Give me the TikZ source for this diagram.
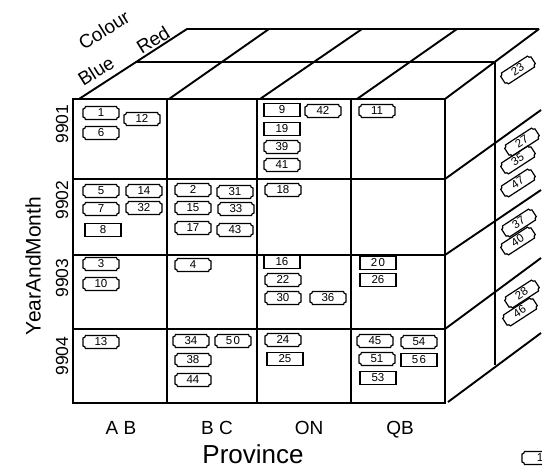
\documentclass[tikz,border=0pt]{standalone}
\usepackage{fontspec}
\setmainfont{Liberation Sans}
\newcommand\tagN[5]{% name, x, y, text, angle
  \begin{scope}[shift={(#2,#3)},rotate=#5]
    \node[tagtext,rotate=#5] (#1) at (0,-0.8) {#4};
    \draw[tagline] (-15.5,-6.5) -- (15.5,-6.5) .. controls (15.5,-5.1) and (16.6,-4) .. (18,-4)
      -- (18,4) .. controls (16.6,4) and (15.5,5.1) .. (15.5,6.5)
      -- (-15.5,6.5) .. controls (-15.5,5.1) and (-16.6,4) .. (-18,4)
      -- (-18,-4) .. controls (-16.6,-4) and (-15.5,-5.1) .. (-15.5,-6.5) -- cycle;
  \end{scope}}
\newcommand\tagP[5]{% name, x, y, text, angle
  \begin{scope}[shift={(#2,#3)},rotate=#5]
    \node[tagtext,rotate=#5] (#1) at (0,-0.8) {#4};
    \draw[tagline] (-18,-6.5) rectangle (18,6.5);
  \end{scope}}
\begin{document}
\begin{tikzpicture}[x=1pt,y=-1pt,
  edge/.style={line width=1.9pt},
  tagline/.style={line width=1.2pt},
  tagtext/.style={inner sep=0pt,font=\fontsize{11.5}{11.5}\selectfont},
  dimlab/.style={inner sep=0pt,font=\fontsize{19}{19}\selectfont},
  memlab/.style={inner sep=0pt,font=\fontsize{17.5}{17.5}\selectfont},
  provlab/.style={inner sep=0pt,anchor=base,font=\fontsize{19}{19}\selectfont},
  axistitle/.style={inner sep=0pt,font=\fontsize{21}{21}\selectfont}]
\useasboundingbox (0,0) rectangle (542,466);
% front face
\draw[edge] (73,99) rectangle (445,403);
\foreach \x in {167,257,351} \draw[edge] (\x,99) -- (\x,403);
\foreach \y in {179,255,329} \draw[edge] (73,\y) -- (445,\y);
% top face
\draw[edge] (79,99) -- (187,29) -- (539,29);
\draw[edge] (136,62) -- (496,62);
\draw[edge] (169,99) -- (269,29);
\draw[edge] (260,99) -- (362,29);
\draw[edge] (357,99) -- (457,29);
\draw[edge] (445,99) -- (539,29);
% right face
\draw[edge] (495,62) -- (495,365);
\draw[edge] (445,179) -- (541,110);
\draw[edge] (445,255) -- (541,190);
\draw[edge] (445,329) -- (541,258);
\draw[edge] (448,402) -- (541,333);
% labels
\node[dimlab,rotate=32] (colour) at (104,30) {Colour};
\node[dimlab,rotate=32] (red) at (153,40) {Red};
\node[dimlab,rotate=32] (blue) at (96,71) {Blue};
\node[memlab,rotate=90] (m1) at (62,124) {9901};
\node[memlab,rotate=90] (m2) at (62,200) {9902};
\node[memlab,rotate=90] (m3) at (62,278) {9903};
\node[memlab,rotate=90] (m4) at (62,356) {9904};
\node[axistitle,rotate=90] (ym) at (33,266) {YearAndMonth};
\node[provlab] (ab) at (121,434) {A B};
\node[provlab] (bc) at (217,434) {B C};
\node[provlab] (on) at (309,434) {ON};
\node[provlab] (qb) at (400,434) {QB};
\node[inner sep=0pt,anchor=base,font=\fontsize{26}{26}\selectfont] (prov) at (253,463) {Province};
% front tags
\tagN{t1}{101}{113}{1}{0}
\tagN{t12}{142}{119}{12}{0}
\tagN{t6}{101}{133}{6}{0}
\tagN{t5}{101}{191}{5}{0}
\tagN{t14}{144}{191}{14}{0}
\tagN{t7}{101}{209}{7}{0}
\tagN{t32}{144}{208}{32}{0}
\tagP{t8}{103}{230}{8}{0}
\tagN{t2}{193}{190}{2}{0}
\tagN{t31}{235}{192}{31}{0}
\tagN{t15}{193}{208}{15}{0}
\tagN{t33}{236}{209}{33}{0}
\tagN{t17}{193}{228}{17}{0}
\tagN{t43}{235}{230}{43}{0}
\tagP{t9}{282}{110}{9}{0}
\tagN{t42}{323}{111}{42}{0}
\tagP{t19}{282}{129}{19}{0}
\tagN{t39}{282}{147}{39}{0}
\tagN{t41}{282}{165}{41}{0}
\tagN{t11}{377}{111}{11}{0}
\tagN{t18}{283}{190}{18}{0}
\tagN{t3}{101}{264}{3}{0}
\tagN{t10}{101}{284}{10}{0}
\tagN{t4}{193}{265}{4}{0}
\tagN{t13}{101}{342}{13}{0}
\tagN{t34}{191}{341}{34}{0}
\tagN{t50}{233}{341}{5\kern1.5pt0}{0}
\tagN{t38}{193}{360}{38}{0}
\tagN{t44}{193}{380}{44}{0}
\tagP{t16}{282}{262}{16}{0}
\tagN{t22}{283}{280}{22}{0}
\tagN{t30}{283}{298}{30}{0}
\tagN{t36}{328}{298}{36}{0}
\tagP{t20}{378}{263}{2\kern1.5pt0}{0}
\tagP{t26}{378}{280}{26}{0}
\tagN{t24}{283}{340}{24}{0}
\tagP{t25}{285}{359}{25}{0}
\tagN{t45}{375}{341}{45}{0}
\tagN{t54}{419}{342}{54}{0}
\tagN{t51}{377}{359}{51}{0}
\tagP{t56}{419}{360}{5\kern1.5pt6}{0}
\tagP{t53}{378}{378}{53}{0}
% right face tags
\tagN{t23}{518}{70}{23}{33}
\tagN{t27}{522}{142}{27}{33}
\tagN{t35}{518}{160}{35}{33}
\tagN{t47}{518}{183}{47}{33}
\tagN{t37}{519}{223}{37}{33}
\tagN{t40}{518}{241}{40}{33}
\tagN{t28}{522}{294}{28}{33}
\tagN{t46}{520}{312}{46}{33}
% stray tag at bottom right
\tagN{tb}{540}{458}{1}{0}
\end{tikzpicture}
\end{document}
